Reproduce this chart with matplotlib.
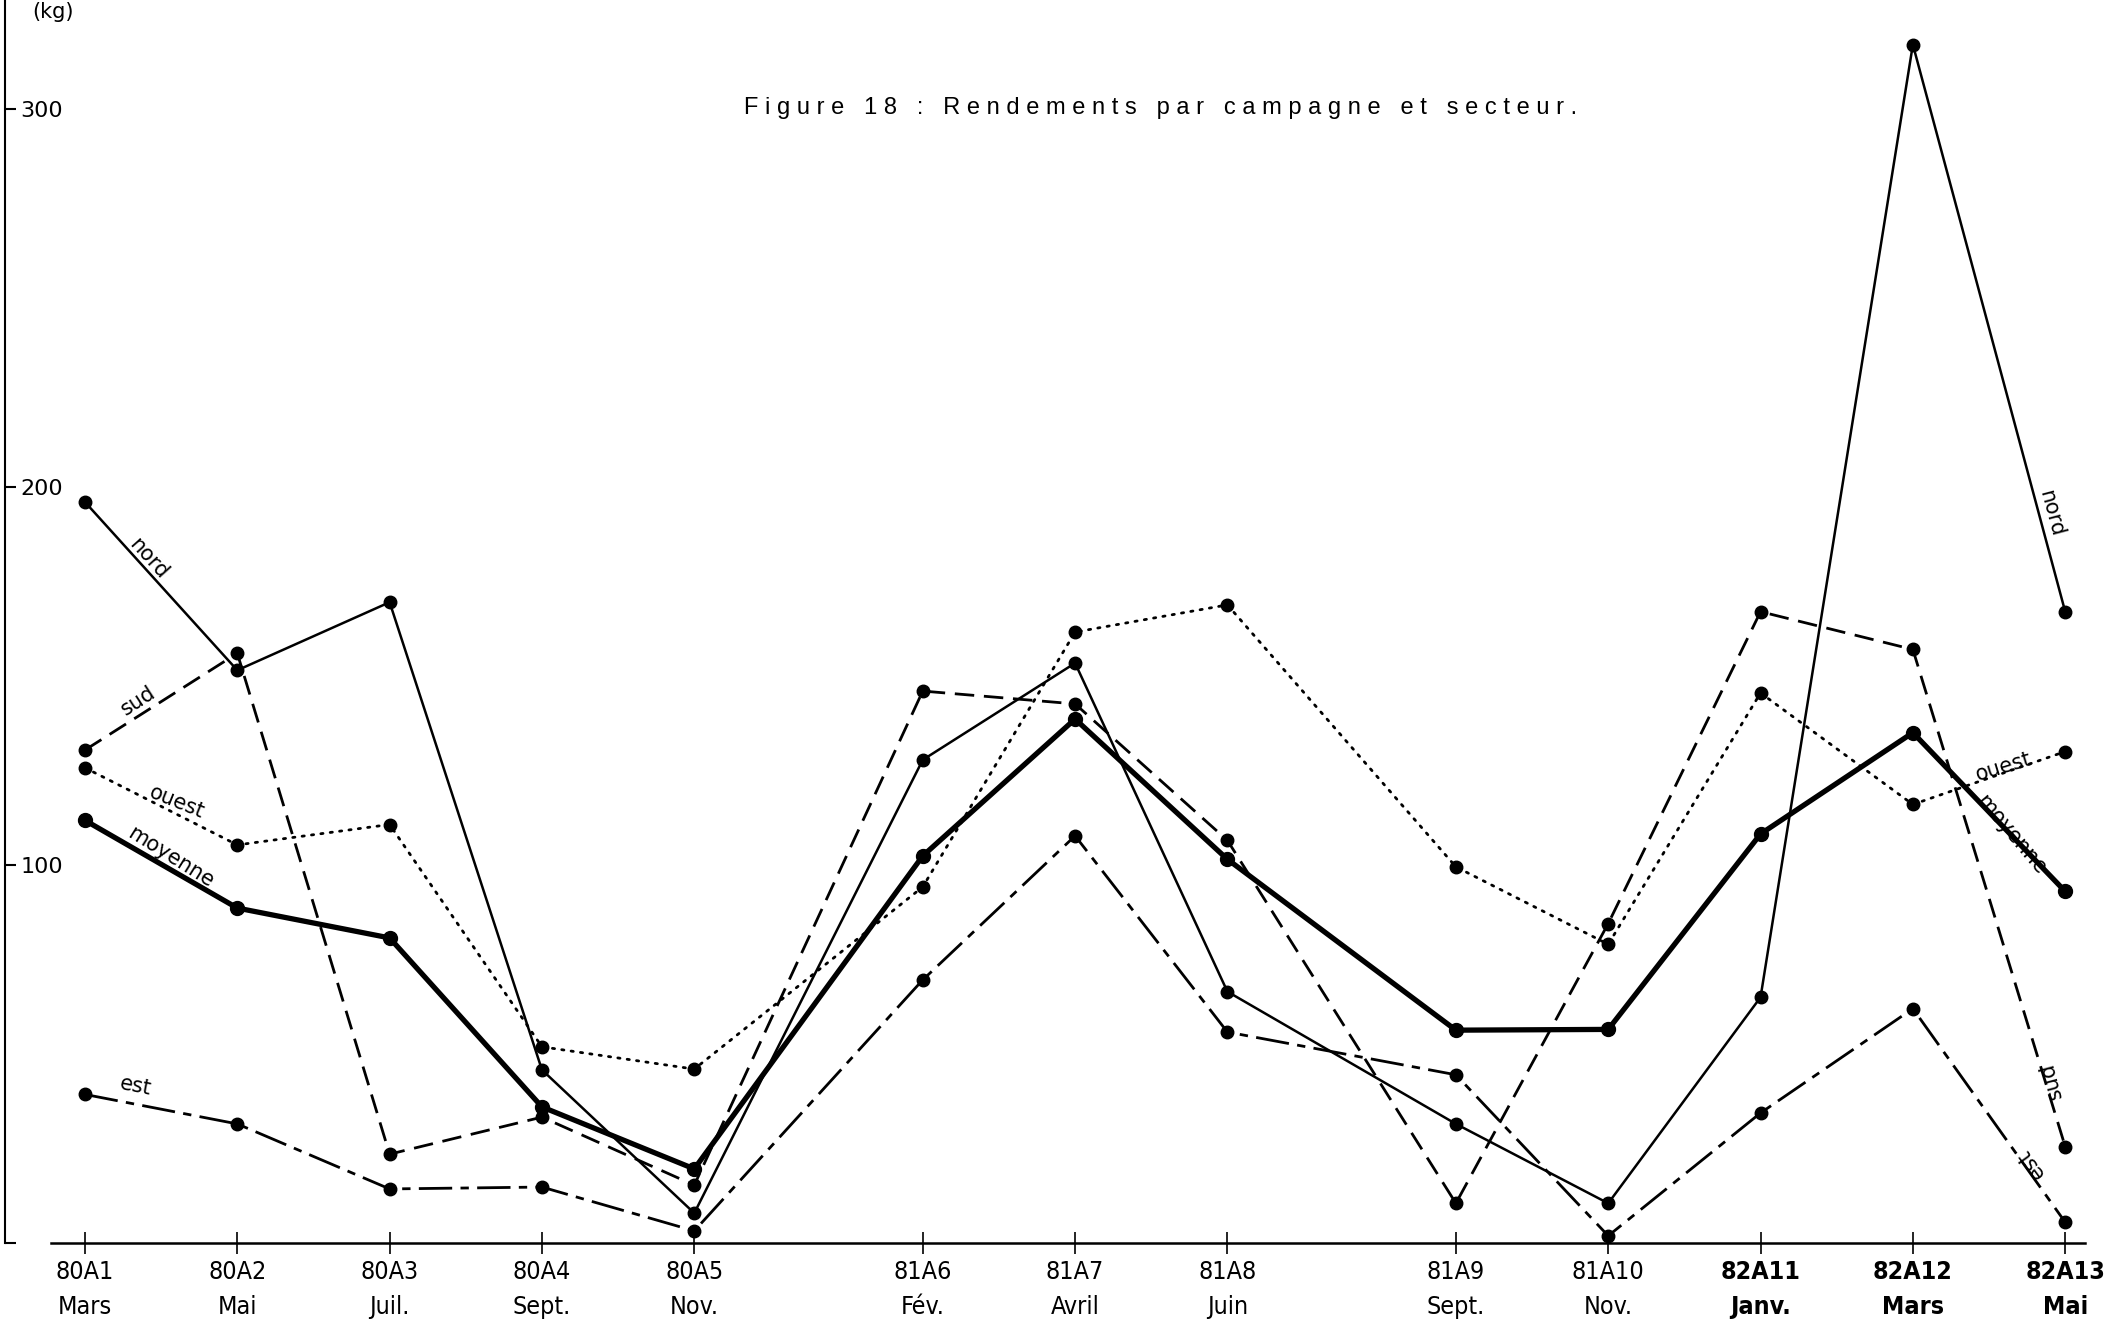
import matplotlib.pyplot as plt

# campagnes: code, mois, position en mois depuis mars 1980
codes = ['80A1', '80A2', '80A3', '80A4', '80A5', '81A6', '81A7',
         '81A8', '81A9', '81A10', '82A11', '82A12', '82A13']
mois = ['Mars', 'Mai', 'Juil.', 'Sept.', 'Nov.', 'Fév.', 'Avril',
        'Juin', 'Sept.', 'Nov.', 'Janv.', 'Mars', 'Mai']
x_mois = [0, 2, 4, 6, 8, 11, 13, 15, 18, 20, 22, 24, 26]

# rendements (kg) par secteur
nord = [196, 151.5, 169.5, 45.8, 7.9, 127.8, 153.4, 66.5, 31.5, 10.5, 65, 317, 167]
sud = [130.4, 156, 23.5, 33.3, 15.3, 146, 142.6, 106.5, 10.5, 84.5, 167, 157, 25.5]
ouest = [125.7, 105.3, 110.7, 51.9, 46, 94.2, 161.6, 168.8, 99.5, 79, 145.5, 116, 130]
est = [39.3, 31.5, 14.3, 14.8, 3.2, 69.6, 107.7, 55.8, 44.5, 1.9, 34.4, 62, 5.5]
moyenne = [111.8, 88.6, 80.7, 36, 19.6, 102.4, 138.6, 101.5, 56.3, 56.5, 108.2, 135, 93]

W, H = 2116, 1338
fig = plt.figure(figsize=(W / 100, H / 100), dpi=100)
ax = fig.add_axes([5 / W, 95 / H, 2080 / W, 1243 / H])

ms = 9
ax.plot(x_mois, nord, color='black', lw=1.8, ls='-', marker='o', ms=ms, clip_on=False)
ax.plot(x_mois, sud, color='black', lw=2, ls=(0, (7, 3.5)), marker='o', ms=ms, clip_on=False)
ax.plot(x_mois, ouest, color='black', lw=2, ls=(0, (0.8, 2.6)), marker='o', ms=ms,
        dash_capstyle='round', clip_on=False)
ax.plot(x_mois, est, color='black', lw=2, ls=(0, (12, 3, 3, 3)), marker='o', ms=ms, clip_on=False)
ax.plot(x_mois, moyenne, color='black', lw=3.8, ls='-', marker='o', ms=ms + 1, clip_on=False)

ax.set_xlim(-1.05, 26.26)
ax.set_ylim(0, 328.8)

for s in ['top', 'right']:
    ax.spines[s].set_visible(False)
ax.spines['left'].set_linewidth(1.5)
ax.spines['bottom'].set_linewidth(1.8)
ax.spines['bottom'].set_bounds(-0.45, 26.26)

# axe des rendements
ax.set_yticks([0, 100, 200, 300])
ax.set_yticklabels(['', '100', '200', '300'], fontsize=16, family='DejaVu Sans')
ax.tick_params(axis='y', direction='in', length=8, width=1.5, pad=-11)
for lab in ax.get_yticklabels():
    lab.set_horizontalalignment('left')

# axe des campagnes
ax.set_xticks(x_mois)
ax.set_xticklabels([c + '\n' + m for c, m in zip(codes, mois)],
                   family='DejaVu Sans', fontstretch='condensed', fontsize=18,
                   linespacing=1.62)
ax.tick_params(axis='x', direction='inout', length=16, width=1.2, pad=4)
for lab in ax.get_xticklabels()[-3:]:
    lab.set_fontweight('bold')

fig.text(32 / W, 1 - 2 / H, '(kg)', fontsize=15, va='top', ha='left')

titre = 'Figure 18 : Rendements par campagne et secteur.'
titre_espace = '   '.join(' '.join(mot) for mot in titre.split(' '))
fig.text(1161 / W, 1 - 108 / H, titre_espace, fontsize=17,
         family='Liberation Sans', ha='center', va='center')

# noms des courbes le long des tracés
lab_kw = dict(fontsize=15, family='DejaVu Sans', ha='center', va='center',
              rotation_mode='anchor')
ax.text(0.83, 181, 'nord', rotation=-48, **lab_kw)
ax.text(0.70, 143.5, 'sud', rotation=33, **lab_kw)
ax.text(1.21, 116.5, 'ouest', rotation=-22, **lab_kw)
ax.text(1.12, 102, 'moyenne', rotation=-32, **lab_kw)
ax.text(0.66, 41.5, 'est', rotation=-11, **lab_kw)
ax.text(25.82, 193, 'nord', rotation=-75, **lab_kw)
ax.text(25.19, 126, 'ouest', rotation=17, **lab_kw)
ax.text(25.29, 108, 'moyenne', rotation=-50, **lab_kw)
ax.text(25.82, 43, 'sud', rotation=105, **lab_kw)
ax.text(25.55, 21, 'est', rotation=126, **lab_kw)

plt.savefig('out.png', dpi=100)
